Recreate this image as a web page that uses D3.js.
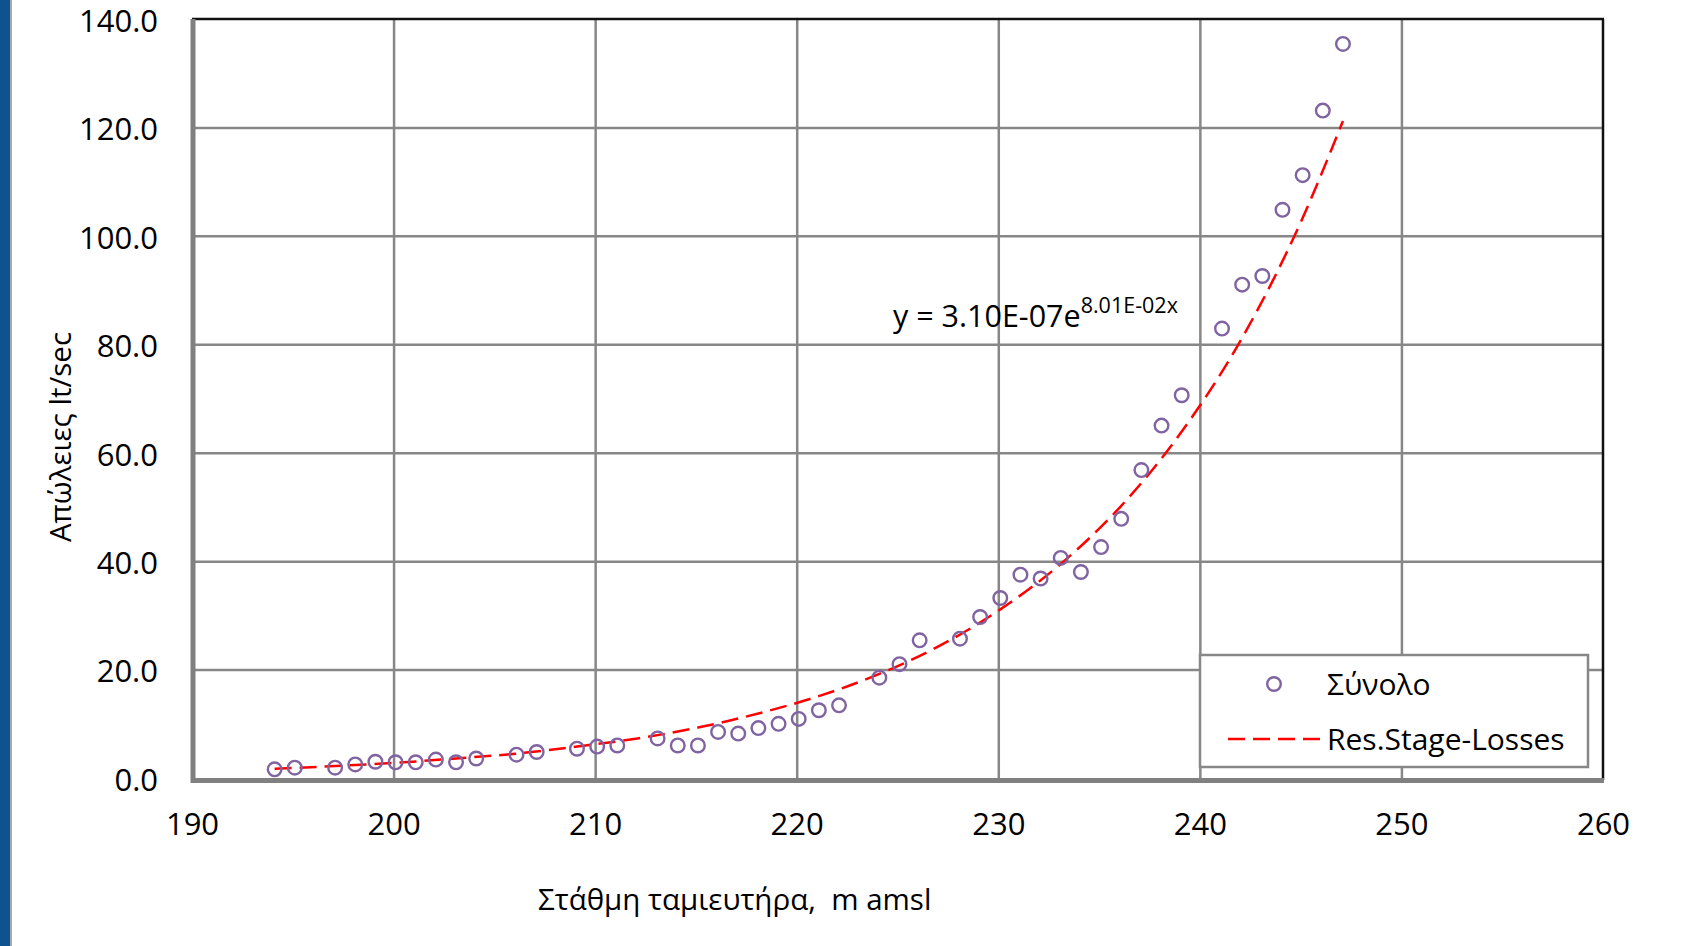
<!DOCTYPE html>
<html>
<head>
<meta charset="utf-8">
<script src="https://cdn.jsdelivr.net/npm/d3@7"></script>
<style>
  body { margin: 0; background: #fff; }
  text { font-family: 'Open Sans', sans-serif; fill: #000; }
</style>
</head>
<body>
<div id="wrapper"></div>
<script>
// stage (m amsl) and measured losses (lt/sec)
const stage = [194, 195, 197, 198, 199, 200, 201, 202, 203, 204, 206, 207, 209, 210, 211,
    213, 214, 215, 216, 217, 218, 219, 220, 221, 222, 224, 225, 226, 228, 229, 230,
    231, 232, 233, 234, 235, 236, 237, 238, 239, 241, 242, 243, 244, 245, 246, 247]
const losses = [1.6, 1.9, 1.9, 2.5, 3.0, 2.9, 2.9, 3.4, 2.9, 3.6, 4.3, 4.8, 5.4, 5.8, 6.0,
    7.3, 6.0, 6.0, 8.5, 8.2, 9.2, 10.0, 10.9, 12.5, 13.4, 18.5, 21.0, 25.4, 25.7, 29.7, 33.2,
    37.5, 36.8, 40.6, 38.0, 42.6, 47.8, 56.8, 65.0, 70.6, 82.9, 91.0, 92.6, 104.8, 111.2, 123.1, 135.4]

// trend line values
const trendStage = [194, 197, 200, 203, 206, 209, 212, 215, 218, 221, 224, 227, 230, 233, 236, 239, 242, 245, 247]
const trendLosses = [1.7, 2.2, 2.8, 3.6, 4.5, 5.8, 7.3, 9.3, 11.9, 15.1, 19.2, 24.4, 31.1, 39.5, 50.2, 63.9, 81.2, 103.3, 121.2]

const xTicks = [190, 200, 210, 220, 230, 240, 250, 260]
const yTicks = [0, 20, 40, 60, 80, 100, 120, 140]

const wrapper = d3.select('#wrapper')
    .append('svg')
        .attr('width', 1699)
        .attr('height', 946)

wrapper.append('rect')
    .attr('width', 1699)
    .attr('height', 946)
    .attr('fill', '#fff')

// blue band on the left edge
wrapper.append('rect')
    .attr('x', 0).attr('y', 0)
    .attr('width', 10).attr('height', 946)
    .attr('fill', '#0f5290')
wrapper.append('rect')
    .attr('x', 10).attr('y', 0)
    .attr('width', 2).attr('height', 946)
    .attr('fill', '#a9a9a9')

const plotLeft = 192, plotRight = 1603, plotTop = 19, plotBottom = 778

const xScale = d3.scaleLinear().domain([190, 260]).range([plotLeft, plotRight])
const yScale = d3.scaleLinear().domain([0, 140]).range([plotBottom, plotTop])

const bounds = wrapper.append('g')

// grid
bounds.append('g')
    .attr('transform', `translate(0,${plotBottom})`)
    .call(d3.axisBottom(xScale).tickValues(xTicks.slice(1, -1)).tickSize(-(plotBottom - plotTop)).tickFormat(''))
    .call(g => g.select('.domain').remove())
    .call(g => g.selectAll('line').attr('stroke', '#878787').attr('stroke-width', 2.5))
bounds.append('g')
    .attr('transform', `translate(${plotLeft},0)`)
    .call(d3.axisLeft(yScale).tickValues(yTicks.slice(1, -1)).tickSize(-(plotRight - plotLeft)).tickFormat(''))
    .call(g => g.select('.domain').remove())
    .call(g => g.selectAll('line').attr('stroke', '#878787').attr('stroke-width', 2.5))

// frame: black top/right, thick gray left/bottom
bounds.append('line')
    .attr('x1', plotLeft).attr('x2', plotRight + 1).attr('y1', plotTop).attr('y2', plotTop)
    .attr('stroke', '#111').attr('stroke-width', 2.5)
bounds.append('line')
    .attr('x1', plotRight).attr('x2', plotRight).attr('y1', plotTop).attr('y2', plotBottom + 2)
    .attr('stroke', '#111').attr('stroke-width', 2.5)
bounds.append('line')
    .attr('x1', plotLeft + 1).attr('x2', plotLeft + 1).attr('y1', plotTop).attr('y2', plotBottom + 5)
    .attr('stroke', '#808080').attr('stroke-width', 5)
bounds.append('line')
    .attr('x1', plotLeft - 1).attr('x2', plotRight + 1).attr('y1', plotBottom + 2.5).attr('y2', plotBottom + 2.5)
    .attr('stroke', '#808080').attr('stroke-width', 5)

// tick labels
bounds.append('g')
    .attr('transform', `translate(${plotLeft},0)`)
    .call(d3.axisLeft(yScale).tickValues(yTicks).tickSize(0).tickPadding(34).tickFormat(d3.format('.1f')))
    .call(g => g.select('.domain').remove())
    .call(g => g.selectAll('text')
        .style('font-family', "'Open Sans', sans-serif")
        .style('font-size', '31px')
        .attr('dy', '0.4em'))
bounds.append('g')
    .attr('transform', `translate(0,${plotBottom})`)
    .call(d3.axisBottom(xScale).tickValues(xTicks).tickSize(0).tickPadding(35).tickFormat(d3.format('d')))
    .call(g => g.select('.domain').remove())
    .call(g => g.selectAll('text')
        .style('font-family', "'Open Sans', sans-serif")
        .style('font-size', '31px'))

// axis titles
wrapper.append('text')
    .attr('transform', 'translate(71,437) rotate(-90)')
    .attr('text-anchor', 'middle')
    .style('font-size', '29.5px')
    .text('Απώλειες lt/sec')
wrapper.append('text')
    .attr('x', 538).attr('y', 910)
    .style('font-size', '29.5px')
    .style('white-space', 'pre')
    .attr('xml:space', 'preserve')
    .text('Στάθμη ταμιευτήρα,  m amsl')

// series sit ~2px right of the gridlines in the original
const series = bounds.append('g')
    .attr('transform', 'translate(2,0)')

// trend line
const trendLine = d3.line()
    .x(d => xScale(d[0]))
    .y(d => yScale(d[1]))
    .curve(d3.curveMonotoneX)
series.append('path')
    .datum(d3.zip(trendStage, trendLosses))
    .attr('d', trendLine)
    .attr('fill', 'none')
    .attr('stroke', '#ff0000')
    .attr('stroke-width', 2.5)
    .attr('stroke-dasharray', '17,8')

// measured points
series.append('g')
    .selectAll('circle')
    .data(d3.zip(stage, losses))
    .join('circle')
        .attr('cx', d => xScale(d[0]))
        .attr('cy', d => yScale(d[1]))
        .attr('r', 6.8)
        .attr('fill', 'none')
        .attr('stroke', '#8064a2')
        .attr('stroke-width', 2.4)

// equation
const eq = bounds.append('text')
    .attr('x', 893).attr('y', 327)
    .style('font-size', '30.5px')
eq.append('tspan').text('y = 3.10E-07e')
eq.append('tspan')
    .attr('dy', -14)
    .style('font-size', '21.5px')
    .text('8.01E-02x')

// legend
const legend = bounds.append('g')
legend.append('rect')
    .attr('x', 1200).attr('y', 655)
    .attr('width', 388).attr('height', 112)
    .attr('fill', '#fff')
    .attr('stroke', '#878787').attr('stroke-width', 2.5)
legend.append('circle')
    .attr('cx', 1274).attr('cy', 684)
    .attr('r', 6.8)
    .attr('fill', 'none')
    .attr('stroke', '#8064a2')
    .attr('stroke-width', 2.4)
legend.append('text')
    .attr('x', 1327).attr('y', 695)
    .style('font-size', '30px')
    .text('Σύνολο')
legend.append('line')
    .attr('x1', 1228).attr('x2', 1320).attr('y1', 739).attr('y2', 739)
    .attr('stroke', '#ff0000')
    .attr('stroke-width', 2.5)
    .attr('stroke-dasharray', '17,8')
legend.append('text')
    .attr('x', 1327).attr('y', 750)
    .style('font-size', '30px')
    .text('Res.Stage-Losses')
</script>
</body>
</html>
